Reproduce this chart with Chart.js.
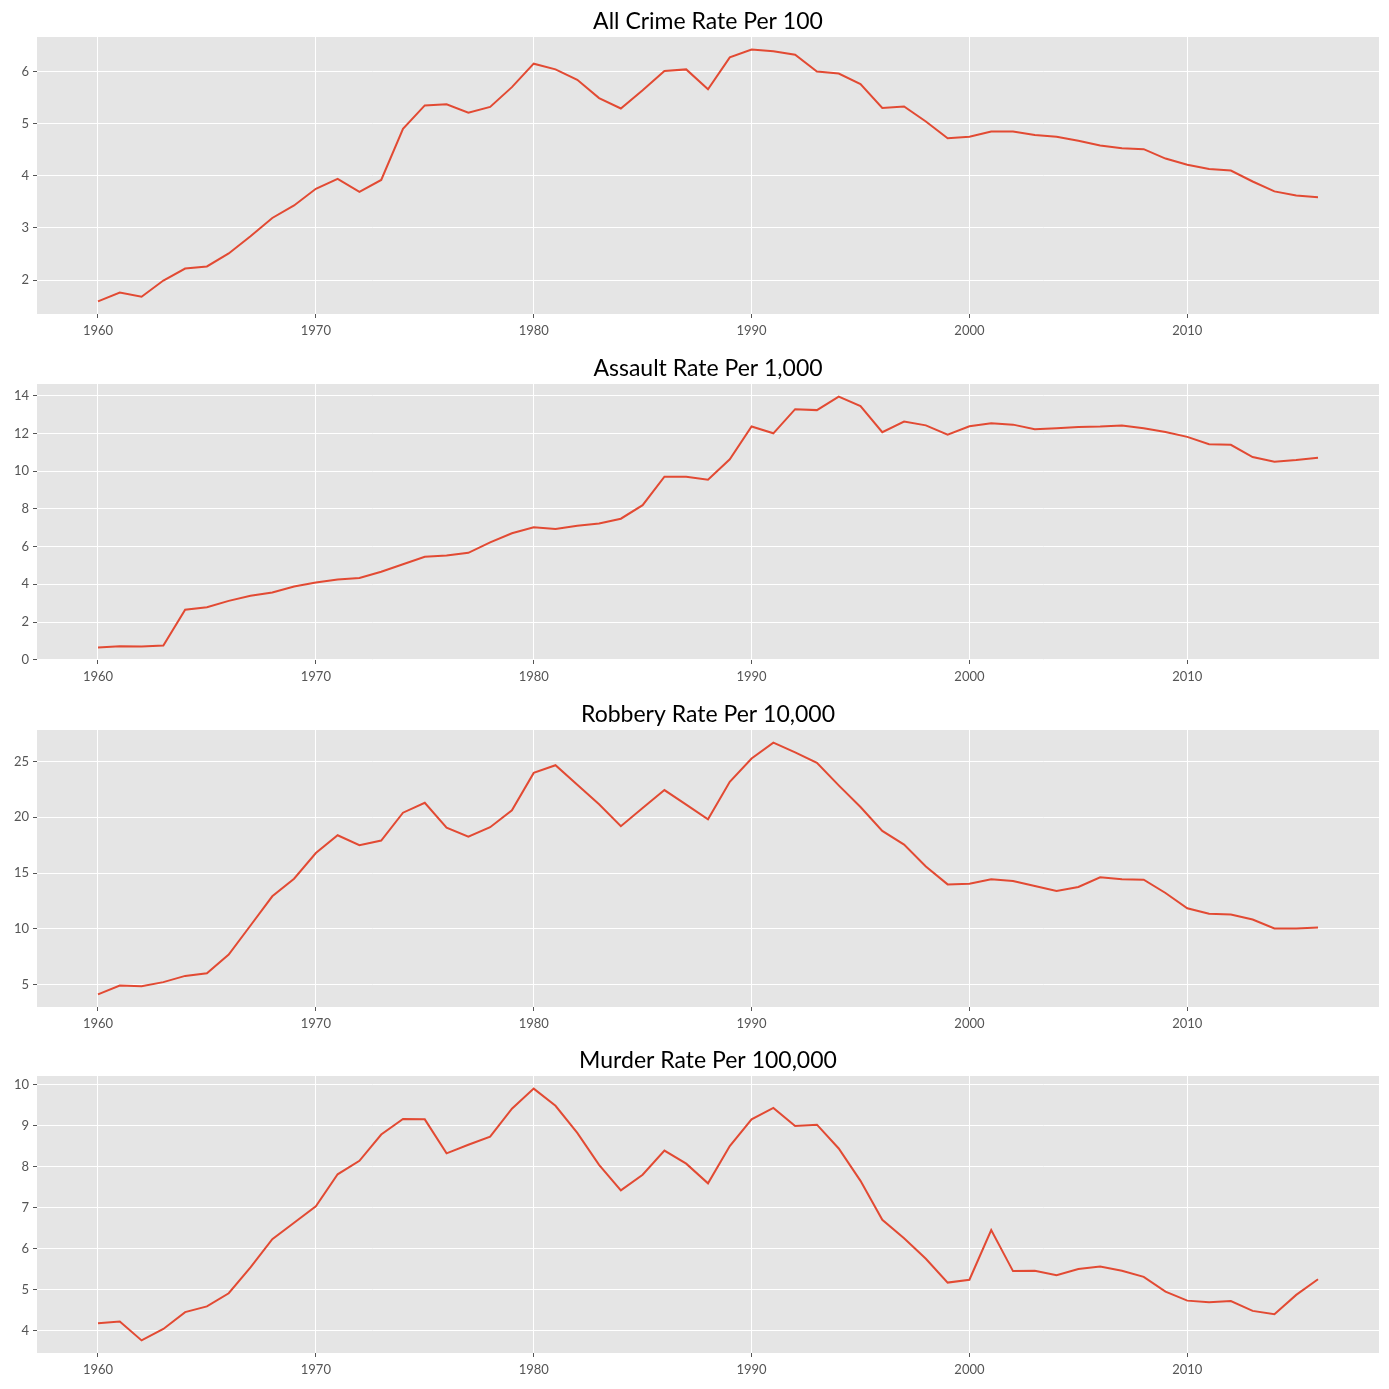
<!DOCTYPE html>
<html>
<head>
<meta charset="utf-8">
<script src="https://cdn.jsdelivr.net/npm/chart.js@4.4.0/dist/chart.umd.min.js"></script>
<style>
  body { margin: 0; background: #fff; width: 1389px; height: 1389px; position: relative; overflow: hidden; }
  .panel { position: absolute; left: 0; width: 1389px; }
</style>
</head>
<body>
<div class="panel" id="p0"><canvas id="c0"></canvas></div>
<div class="panel" id="p1"><canvas id="c1"></canvas></div>
<div class="panel" id="p2"><canvas id="c2"></canvas></div>
<div class="panel" id="p3"><canvas id="c3"></canvas></div>
<script>
// anos
const years = [1960,1961,1962,1963,1964,1965,1966,1967,1968,1969,
  1970,1971,1972,1973,1974,1975,1976,1977,1978,1979,
  1980,1981,1982,1983,1984,1985,1986,1987,1988,1989,
  1990,1991,1992,1993,1994,1995,1996,1997,1998,1999,
  2000,2001,2002,2003,2004,2005,2006,2007,2008,2009,
  2010,2011,2012,2013,2014,2015,2016];

const allCrime = [1.59,1.76,1.68,1.99,2.22,2.26,2.51,2.84,3.19,3.43,
  3.75,3.94,3.69,3.92,4.90,5.35,5.37,5.21,5.32,5.70,
  6.15,6.04,5.84,5.49,5.29,5.64,6.01,6.04,5.66,6.27,
  6.42,6.39,6.32,6.00,5.96,5.76,5.30,5.33,5.04,4.72,
  4.75,4.85,4.85,4.78,4.75,4.67,4.58,4.53,4.51,4.33,
  4.21,4.13,4.10,3.89,3.70,3.62,3.59];

const assault = [0.65,0.72,0.70,0.75,2.65,2.78,3.12,3.39,3.57,3.88,
  4.09,4.25,4.34,4.67,5.06,5.46,5.53,5.67,6.22,6.71,
  7.02,6.94,7.10,7.23,7.48,8.20,9.71,9.71,9.55,10.63,
  12.37,12.01,13.29,13.24,13.96,13.45,12.07,12.63,12.43,11.94,
  12.38,12.54,12.47,12.22,12.28,12.35,12.37,12.43,12.28,12.08,
  11.82,11.43,11.40,10.75,10.50,10.59,10.71];

const robbery = [4.11,4.91,4.85,5.21,5.77,6.01,7.68,10.29,12.91,14.49,
  16.79,18.39,17.50,17.91,20.41,21.30,19.07,18.27,19.11,20.63,
  23.98,24.67,22.91,21.16,19.20,20.83,22.44,21.13,19.82,23.18,
  25.27,26.70,25.83,24.88,22.86,20.92,18.78,17.55,15.59,13.98,
  14.04,14.43,14.29,13.84,13.39,13.75,14.61,14.43,14.40,13.21,
  11.84,11.34,11.28,10.83,10.03,10.03,10.12];

const murder = [4.18,4.22,3.76,4.04,4.45,4.59,4.91,5.54,6.23,6.63,
  7.03,7.81,8.14,8.78,9.16,9.15,8.32,8.53,8.73,9.41,
  9.90,9.48,8.82,8.04,7.42,7.80,8.39,8.07,7.59,8.50,
  9.15,9.43,8.99,9.02,8.44,7.65,6.70,6.25,5.75,5.17,
  5.24,6.45,5.45,5.46,5.35,5.50,5.56,5.46,5.31,4.95,
  4.73,4.69,4.72,4.48,4.40,4.87,5.25];

const titles = ['All Crime Rate Per 100', 'Assault Rate Per 1,000', 'Robbery Rate Per 10,000', 'Murder Rate Per 100,000'];
const xTicks = [1960, 1970, 1980, 1990, 2000, 2010];
const yTicksCrime = [2, 3, 4, 5, 6];
const yTicksAssault = [0, 2, 4, 6, 8, 10, 12, 14];
const yTicksRobbery = [5, 10, 15, 20, 25];
const yTicksMurder = [4, 5, 6, 7, 8, 9, 10];

const series = [allCrime, assault, robbery, murder];
const yTicks = [yTicksCrime, yTicksAssault, yTicksRobbery, yTicksMurder];

// posicao de cada painel (topo e base da area do grafico)
const plotTop = [37, 384, 730, 1076];
const plotBottom = [314, 660, 1007, 1353];
const TITLE_H = 37, XAXIS_H = 30;

const fundoCinza = {
  id: 'fundoCinza',
  beforeDraw(chart) {
    const a = chart.chartArea;
    const ctx = chart.ctx;
    ctx.save();
    ctx.fillStyle = '#E5E5E5';
    ctx.fillRect(a.left, a.top, a.right - a.left, a.bottom - a.top);
    ctx.restore();
  }
};

function margem(vals) {
  const lo = Math.min(...vals), hi = Math.max(...vals);
  const r = hi - lo;
  return [lo - 0.05 * r, hi + 0.05 * r];
}

const xr = margem(years);

for (let i = 0; i < 4; i++) {
  const div = document.getElementById('p' + i);
  div.style.top = (plotTop[i] - TITLE_H) + 'px';
  div.style.height = (plotBottom[i] - plotTop[i] + TITLE_H + XAXIS_H) + 'px';

  const yr = margem(series[i]);
  const ticksY = yTicks[i];

  new Chart(document.getElementById('c' + i), {
    type: 'line',
    data: {
      datasets: [{
        data: years.map((a, k) => ({ x: a, y: series[i][k] })),
        borderColor: '#E24A33',
        borderWidth: 2,
        pointRadius: 0,
        tension: 0,
        fill: false
      }]
    },
    options: {
      responsive: true,
      maintainAspectRatio: false,
      animation: false,
      devicePixelRatio: 1,
      layout: { padding: { left: 0, right: 10, top: 0, bottom: 0 } },
      plugins: {
        legend: { display: false },
        tooltip: { enabled: false },
        title: {
          display: true,
          text: titles[i],
          fullSize: false,
          color: '#000',
          font: { family: 'Lato', size: 23, weight: 'normal' },
          padding: { top: 7.5, bottom: 1.9 }
        }
      },
      scales: {
        x: {
          type: 'linear',
          min: xr[0],
          max: xr[1],
          afterBuildTicks: s => { s.ticks = xTicks.map(v => ({ value: v })); },
          afterFit: s => { s.height = XAXIS_H; },
          ticks: {
            color: '#555',
            font: { family: 'Lato', size: 13 },
            padding: 5,
            maxRotation: 0,
            callback: v => String(v)
          },
          grid: { color: '#fff', lineWidth: 1, tickColor: '#555', tickLength: 4 },
          border: { display: false }
        },
        y: {
          min: yr[0],
          max: yr[1],
          afterBuildTicks: s => { s.ticks = ticksY.map(v => ({ value: v })); },
          afterFit: s => { s.width = 37; },
          ticks: {
            color: '#555',
            font: { family: 'Lato', size: 13 },
            padding: 4,
            callback: v => String(v)
          },
          grid: { color: '#fff', lineWidth: 1, tickColor: '#555', tickLength: 4 },
          border: { display: false }
        }
      }
    },
    plugins: [fundoCinza]
  });
}
</script>
</body>
</html>
